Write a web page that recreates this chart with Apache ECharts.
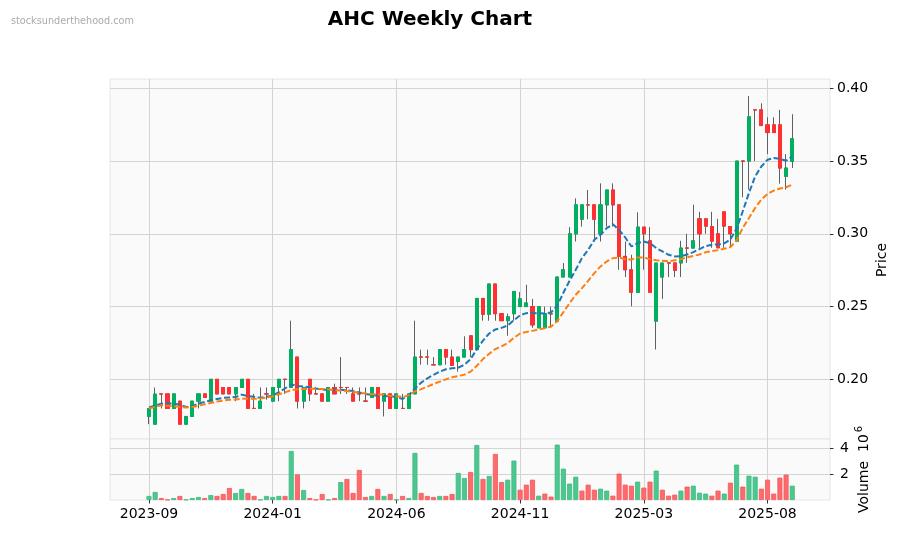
<!DOCTYPE html>
<html>
<head>
<meta charset="utf-8">
<script src="https://cdn.jsdelivr.net/npm/echarts/dist/echarts.min.js"></script>
<style>
  html, body { margin: 0; padding: 0; background: #ffffff; }
  #chart { width: 899px; height: 533px; }
</style>
</head>
<body>
<div id="chart"></div>
<script>
// ---- data (weekly bars, index 0 = first week shown) ----
const tickPositions = [0, 20, 40, 60, 80, 100];
const tickLabels = ['2023-09', '2024-01', '2024-06', '2024-11', '2025-03', '2025-08'];
const priceTicks = [0.20, 0.25, 0.30, 0.35, 0.40];
const volumeTicks = [2, 4];

const opens = [.1745,.1692,.19,.19,.18,.185,.1692,.1745,.185,.19,
.185,.20,.1944,.1944,.19,.1944,.20,.18,.18,.19,
.185,.1944,.20,.1944,.2153,.185,.20,.19,.19,.185,
.1944,.1944,.1944,.19,.19,.185,.1875,.1944,.185,.19,
.18,.18,.18,.19,.2153,.2153,.21,.21,.2204,.2153,
.2123,.2153,.2299,.2204,.2556,.2447,.2655,.2451,.2403,.2451,
.25,.25,.25,.2354,.2354,.245,.24,.2703,.2703,.30,
.31,.3199,.3199,.30,.3199,.3301,.3199,.2845,.2753,.2598,
.3046,.2952,.24,.2703,.28,.28,.28,.2902,.2902,.3103,
.3103,.305,.30,.3151,.305,.295,.35,.35,.3852,.3852,
.3749,.3749,.3749,.3395,.3498];

const closes = [.1799,.1898,.19,.18,.19,.1692,.1745,.185,.19,.1875,
.20,.19,.19,.19,.1944,.20,.18,.18,.185,.19,
.1944,.20,.20,.2204,.185,.1944,.19,.19,.185,.1944,
.19,.1944,.1944,.185,.19,.185,.1944,.18,.19,.18,
.19,.18,.19,.2153,.2153,.2153,.21,.2204,.2153,.2095,
.2153,.2204,.2204,.2556,.2447,.2655,.2451,.2403,.243,.2604,
.2553,.2525,.2374,.25,.2452,.245,.2703,.2753,.30,.3199,
.3199,.3199,.31,.3199,.3301,.3199,.2845,.2753,.2598,.3046,
.30,.2598,.2799,.2799,.28,.2749,.2902,.2902,.2952,.30,
.3053,.295,.2904,.3053,.30,.35,.35,.3804,.3852,.3744,
.3696,.3696,.3452,.3452,.3653];

const lows = [.1692,.1692,.18,.18,.18,.1692,.1692,.1745,.18,.1875,
.185,.19,.19,.19,.185,.1944,.18,.18,.18,.186,
.185,.185,.19,.1944,.18,.18,.185,.19,.185,.185,
.19,.19,.19,.185,.185,.185,.1875,.18,.1745,.18,
.18,.18,.18,.19,.21,.21,.21,.21,.21,.2095,
.2053,.2153,.2153,.2204,.2403,.2403,.2403,.2403,.23,.2403,
.25,.25,.2354,.2354,.2354,.2366,.24,.2703,.2703,.2947,
.305,.31,.2947,.2947,.305,.305,.2753,.2703,.2502,.2598,
.2753,.2598,.2205,.2553,.2703,.2703,.2703,.28,.2902,.2904,
.30,.2904,.2904,.2904,.2904,.295,.3251,.3304,.35,.3744,
.3548,.3696,.3345,.3304,.3452];

const highs = [.1799,.1944,.19,.19,.19,.185,.1745,.185,.19,.19,
.20,.20,.1944,.1944,.1944,.20,.20,.19,.1944,.1944,
.1944,.20,.20,.2403,.2153,.1944,.20,.1944,.19,.1944,
.197,.2153,.1944,.1944,.1944,.1944,.1944,.1944,.19,.19,
.19,.19,.19,.2403,.2204,.2204,.2153,.2204,.2204,.2204,
.2153,.2296,.2299,.2556,.2556,.2655,.2655,.2451,.2452,.2604,
.26,.265,.2553,.25,.25,.25,.2703,.2799,.3046,.3244,
.3199,.3301,.3199,.3347,.3301,.3347,.3199,.2947,.2856,.3148,
.3046,.3046,.2799,.2799,.28,.28,.2952,.30,.3201,.3151,
.3103,.3151,.3103,.3151,.305,.35,.35,.3947,.3852,.3897,
.3801,.3801,.3852,.3548,.3822];

// volume in millions
const volumes = [.31,.62,.15,.03,.15,.31,.03,.15,.23,.15,
.38,.31,.46,.92,.54,.85,.54,.31,.03,.31,
.23,.31,.31,3.77,1.97,.77,.15,.03,.46,.03,
.15,1.38,1.62,.54,2.31,.23,.31,.85,.31,.46,
.03,.31,.15,3.62,.54,.31,.23,.31,.31,.46,
2.08,1.69,2.15,4.23,1.62,1.85,3.54,1.38,1.56,3.03,
.79,1.18,1.56,.33,.49,.26,4.26,2.41,1.26,1.79,
.72,1.18,.79,.87,.72,.33,2.03,1.18,1.10,1.41,
.95,1.41,2.26,.79,.33,.41,.72,1.03,1.10,.56,
.49,.33,.72,.49,1.33,2.72,1.03,1.87,1.79,.87,
1.56,.49,1.72,1.95,1.10];

// 1 = volume bar drawn in the "up" colour
const volumeUp = [1,1,0,0,1,0,1,1,1,0,
1,0,0,0,1,1,0,0,1,1,
1,1,0,1,0,1,0,0,0,1,
0,1,0,0,0,0,1,0,1,0,
1,0,1,1,0,0,0,1,0,0,
1,1,0,1,0,1,0,0,1,1,
0,0,0,1,0,0,1,1,1,1,
0,0,0,1,1,0,0,0,0,1,
0,0,1,0,0,0,1,0,1,1,
1,0,0,1,0,1,0,1,1,0,
0,0,0,0,1];

const maFast = [.1806,.182,.1833,.1835,.1833,.1825,.181,.1815,.1833,.1845,
.1856,.1865,.1873,.1876,.1878,.1895,.1885,.188,.1873,.188,
.1888,.1912,.1937,.1965,.1954,.195,.1946,.1937,.193,.1926,
.1928,.1928,.1924,.192,.191,.19,.1893,.1887,.1885,.1882,
.188,.1865,.189,.1937,.1977,.2007,.203,.2053,.2069,.2076,
.2081,.21,.2139,.2208,.2266,.2315,.2343,.2354,.237,.2407,
.244,.2455,.2456,.2454,.2452,.246,.2505,.2595,.2678,.2753,
.2833,.289,.2959,.2993,.3039,.3066,.3027,.2975,.2913,.2936,
.2947,.2936,.2902,.2879,.2856,.2845,.2847,.2858,.2874,.2895,
.2915,.2925,.2927,.2935,.2961,.3037,.3155,.3281,.3395,.3463,
.3509,.3521,.3516,.3502,.3532];

const maSlow = [.1799,.181,.1822,.1819,.1815,.181,.1806,.181,.1819,.1829,
.1838,.1847,.1854,.1859,.1861,.1866,.1868,.1866,.1868,.1875,
.1884,.1898,.191,.1926,.1931,.1933,.1935,.1935,.1933,.1931,
.1926,.1924,.1919,.1914,.1907,.1903,.1898,.1896,.1895,.1887,
.1883,.1879,.189,.1918,.1933,.1949,.1968,.1984,.2,.2014,
.2023,.2032,.2053,.2093,.2139,.2176,.2208,.2227,.225,.2285,
.2315,.2326,.2333,.2343,.2352,.2362,.24,.2462,.2524,.2581,
.2627,.2677,.273,.2776,.281,.2833,.2837,.2825,.2823,.2838,
.2837,.2825,.2818,.2815,.2812,.2818,.2826,.2838,.2848,.2858,
.2874,.2881,.2888,.2897,.2909,.2954,.3041,.3109,.3178,.3235,
.3274,.3297,.3311,.332,.3338];

// ---- styling ----
const FONT = 'DejaVu Sans';
const UP = '#00b060', DOWN = '#fe3032', WICK = '#606060';
const VUP = '#4dc790', VDOWN = '#fd6b6c';
const VUP_EDGE = '#3cb97f', VDOWN_EDGE = '#f2575a';
const GRIDC = '#d4d4d4';
const XMIN = -6.3, XMAX = 110.1;

const wickData = opens.map((o, i) => [i, o, closes[i], lows[i], highs[i]]);
const bodyData = opens.map((o, i) => {
  const c = closes[i];
  const col = c > o ? UP : DOWN;
  return {
    value: [i, o, c, Math.min(o, c), Math.max(o, c)],
    itemStyle: { color: col, color0: col, borderColor: col, borderColor0: col }
  };
});
const volData = volumes.map((v, i) => ({
  value: [i, v],
  itemStyle: {
    color: volumeUp[i] ? VUP : VDOWN,
    borderColor: volumeUp[i] ? VUP_EDGE : VDOWN_EDGE,
    borderWidth: 0.8
  }
}));
const fastData = maFast.map((v, i) => [i, v]);
const slowData = maSlow.map((v, i) => [i, v]);

const chart = echarts.init(document.getElementById('chart'), null, { renderer: 'canvas' });

const tickStyle = { show: true, length: 3.5, inside: false, lineStyle: { color: '#000', width: 0.8 } };
const labelStyle = { color: '#000', fontSize: 14, fontFamily: FONT };
const splitStyle = { show: true, lineStyle: { color: GRIDC, width: 1 } };
const noLine = { show: false, onZero: false };

chart.setOption({
  animation: false,
  backgroundColor: '#ffffff',
  title: {
    text: 'AHC Weekly Chart',
    left: 425, top: 5, textAlign: 'center',
    textStyle: { fontFamily: FONT, fontSize: 20, fontWeight: 'bold', color: '#000' }
  },
  graphic: [
    { type: 'text', left: 11, top: 16,
      style: { text: 'stocksunderthehood.com', fill: '#aaaaaa', fontSize: 9.7, fontFamily: FONT } },
    { type: 'text', x: 882, y: 260, rotation: Math.PI / 2,
      style: { text: 'Price', fill: '#000', fontSize: 14, fontFamily: FONT, align: 'center', verticalAlign: 'middle' } },
    { type: 'text', x: 864, y: 513, rotation: Math.PI / 2,
      style: { text: 'Volume  10', fill: '#000', fontSize: 14, fontFamily: FONT, align: 'left', verticalAlign: 'middle' } },
    { type: 'text', x: 859.5, y: 429, rotation: Math.PI / 2,
      style: { text: '6', fill: '#000', fontSize: 10, fontFamily: FONT, align: 'center', verticalAlign: 'middle' } }
  ],
  grid: [
    { left: 110, top: 79, width: 720, height: 360, show: true, backgroundColor: '#fafafa', borderColor: '#e6e6e6', borderWidth: 1 },
    { left: 110, top: 439, width: 720, height: 61, show: true, backgroundColor: '#fafafa', borderColor: '#e6e6e6', borderWidth: 1 }
  ],
  xAxis: [
    { type: 'value', gridIndex: 0, min: XMIN, max: XMAX, position: 'bottom',
      axisLine: noLine,
      axisTick: { show: false, customValues: tickPositions },
      axisLabel: { show: false, customValues: tickPositions },
      splitLine: splitStyle },
    { type: 'value', gridIndex: 1, min: XMIN, max: XMAX, position: 'bottom',
      axisLine: noLine,
      axisTick: Object.assign({ customValues: tickPositions }, tickStyle),
      axisLabel: Object.assign({ customValues: tickPositions, margin: 7,
        formatter: v => { const k = tickPositions.indexOf(Math.round(v)); return k >= 0 ? tickLabels[k] : ''; } }, labelStyle),
      splitLine: splitStyle }
  ],
  yAxis: [
    { type: 'value', gridIndex: 0, position: 'right', min: 0.159, max: 0.4064,
      axisLine: noLine,
      axisTick: Object.assign({ customValues: priceTicks }, tickStyle),
      axisLabel: Object.assign({ customValues: priceTicks, margin: 7, formatter: v => v.toFixed(2) }, labelStyle),
      splitLine: splitStyle },
    { type: 'value', gridIndex: 1, position: 'right', min: 0, max: 4.69,
      axisLine: noLine,
      axisTick: Object.assign({ customValues: volumeTicks }, tickStyle),
      axisLabel: Object.assign({ customValues: volumeTicks, margin: 10, formatter: v => String(v) }, labelStyle),
      splitLine: splitStyle }
  ],
  series: [
    { name: 'wick', type: 'candlestick', xAxisIndex: 0, yAxisIndex: 0,
      barWidth: 3.6, encode: { x: 0, y: [1, 2, 3, 4] },
      itemStyle: { color: 'rgba(0,0,0,0)', color0: 'rgba(0,0,0,0)', borderColor: WICK, borderColor0: WICK, borderWidth: 1 },
      data: wickData, z: 2 },
    { name: 'body', type: 'candlestick', xAxisIndex: 0, yAxisIndex: 0,
      barWidth: 3.6, encode: { x: 0, y: [1, 2, 3, 4] },
      itemStyle: { borderWidth: 1 },
      data: bodyData, z: 3 },
    { name: 'fast', type: 'line', xAxisIndex: 0, yAxisIndex: 0, data: fastData,
      showSymbol: false, symbol: 'none', z: 4,
      lineStyle: { color: '#1f77b4', width: 2, type: [6, 2.6] } },
    { name: 'slow', type: 'line', xAxisIndex: 0, yAxisIndex: 0, data: slowData,
      showSymbol: false, symbol: 'none', z: 4,
      lineStyle: { color: '#ff7f0e', width: 2, type: [6, 2.6] } },
    { name: 'volume', type: 'bar', xAxisIndex: 1, yAxisIndex: 1, data: volData,
      barWidth: 5, z: 2 }
  ]
});
</script>
</body>
</html>
